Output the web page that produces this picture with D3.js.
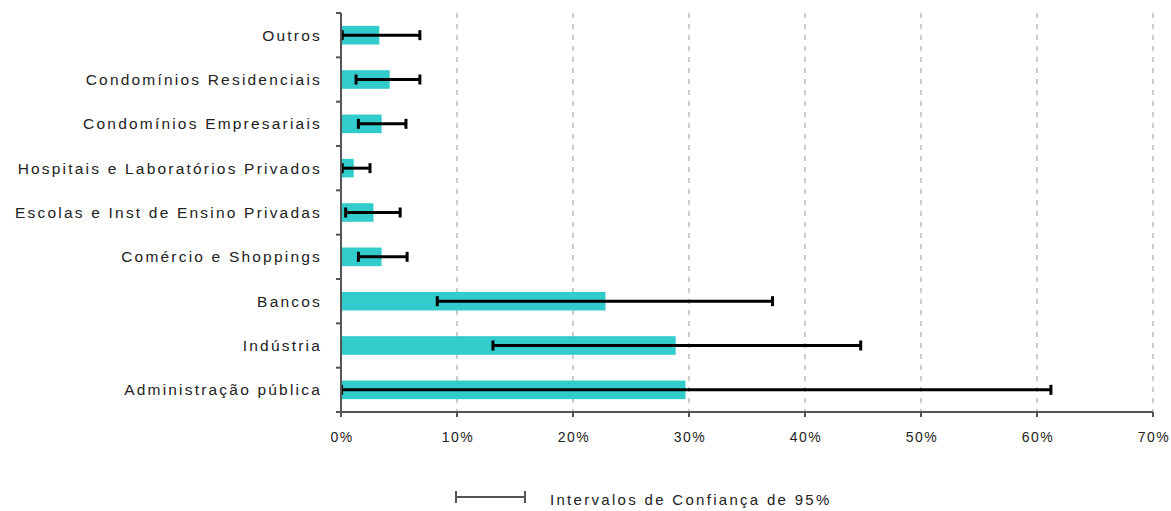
<!DOCTYPE html>
<html><head><meta charset="utf-8">
<script src="https://cdn.jsdelivr.net/npm/d3@7"></script>
<style>
html,body{margin:0;padding:0;background:#fff;}
text{font-family:"Liberation Sans",Arial,sans-serif;fill:#222;}
</style></head>
<body><svg id="c" width="1171" height="511"></svg>
<script>
const categories = ["Outros","Condomínios Residenciais","Condomínios Empresariais","Hospitais e Laboratórios Privados","Escolas e Inst de Ensino Privadas","Comércio e Shoppings","Bancos","Indústria","Administração pública"];
const values = [3.3, 4.2, 3.5, 1.1, 2.8, 3.5, 22.8, 28.85, 29.7];
const lower  = [0.1, 1.3, 1.5, 0.1, 0.4, 1.5, 8.3, 13.1, 0.05];
const upper  = [6.8, 6.8, 5.6, 2.5, 5.1, 5.7, 37.2, 44.8, 61.2];
const xTicks = [0,10,20,30,40,50,60,70];
const legendLabel = "Intervalos de Confiança de 95%";

const svg = d3.select("#c");
const x = d3.scaleLinear().domain([0,70]).range([341,1153]);
const y = d3.scaleBand().domain(categories).range([13,412]).paddingInner(0.58).paddingOuter(0.29);
const step = y.step();

// gridlines
svg.append("g").selectAll("line").data(xTicks.filter(d=>d>0)).join("line")
  .attr("x1",d=>x(d)).attr("x2",d=>x(d)).attr("y1",13).attr("y2",411)
  .attr("stroke","#cccccc").attr("stroke-width",2).attr("stroke-dasharray","5,6");

// bars
svg.append("g").selectAll("rect").data(categories).join("rect")
  .attr("x",x(0)).attr("y",d=>y(d)).attr("height",y.bandwidth())
  .attr("width",(d,i)=>x(values[i])-x(0)).attr("fill","#33cccc");

// error bars
const eg = svg.append("g");
categories.forEach((c,i)=>{
  const cy = y(c)+y.bandwidth()/2;
  eg.append("line").attr("x1",x(lower[i])).attr("x2",x(upper[i])).attr("y1",cy).attr("y2",cy)
    .attr("stroke","#000").attr("stroke-width",3);
  [lower[i],upper[i]].forEach(v=>{
    eg.append("line").attr("x1",x(v)).attr("x2",x(v)).attr("y1",cy-5).attr("y2",cy+5)
      .attr("stroke","#000").attr("stroke-width",3);
  });
});

// y axis
const bounds = [13].concat(categories.map(c=>y(c)+y.bandwidth()+step*0.29));
svg.append("line").attr("x1",341).attr("x2",341).attr("y1",13).attr("y2",412).attr("stroke","#555").attr("stroke-width",2);
svg.append("g").selectAll("line").data(bounds).join("line")
  .attr("x1",336).attr("x2",341).attr("y1",d=>d).attr("y2",d=>d).attr("stroke","#555").attr("stroke-width",2);
svg.append("g").selectAll("text").data(categories).join("text")
  .attr("x",322).attr("y",d=>y(d)+y.bandwidth()/2).attr("dy","0.35em")
  .attr("text-anchor","end").attr("font-size",15.5).attr("letter-spacing","2.2px")
  .text(d=>d);

// x axis
svg.append("line").attr("x1",341).attr("x2",1153).attr("y1",412).attr("y2",412).attr("stroke","#555").attr("stroke-width",2);
svg.append("g").selectAll("line").data(xTicks).join("line")
  .attr("x1",d=>x(d)).attr("x2",d=>x(d)).attr("y1",412).attr("y2",417).attr("stroke","#555").attr("stroke-width",2);
svg.append("g").selectAll("text").data(xTicks).join("text")
  .attr("x",d=>x(d)+1).attr("y",442).attr("text-anchor","middle").attr("font-size",14).attr("letter-spacing","1.5px")
  .text(d=>d+"%");

// legend
svg.append("line").attr("x1",456).attr("x2",525).attr("y1",497).attr("y2",497).attr("stroke","#555").attr("stroke-width",2);
[456,525].forEach(v=>svg.append("line").attr("x1",v).attr("x2",v).attr("y1",491).attr("y2",503).attr("stroke","#555").attr("stroke-width",2));
svg.append("text").attr("x",550).attr("y",505).attr("font-size",15).attr("letter-spacing","2.3px").text(legendLabel);
</script></body></html>
